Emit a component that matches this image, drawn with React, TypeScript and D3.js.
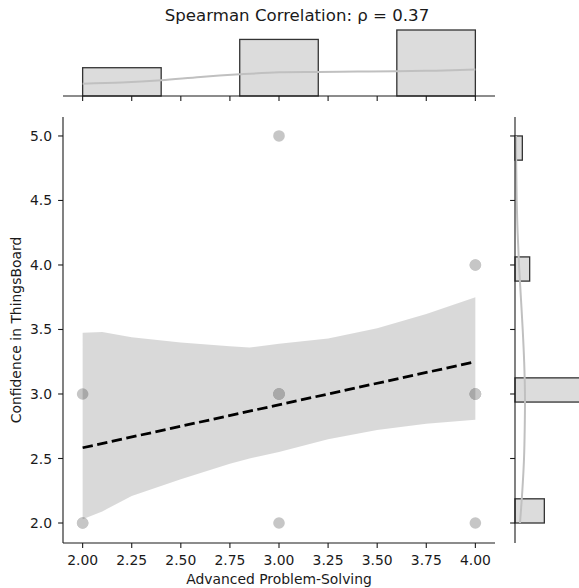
import React from "react";
import * as d3 from "d3";

// raw observations (16 respondents)
const xVals = [2, 2, 2, 3, 3, 3, 3, 3, 3, 4, 4, 4, 4, 4, 4, 4];
const yVals = [2, 2, 3, 5, 3, 3, 3, 3, 2, 4, 4, 3, 3, 3, 3, 2];

// bootstrap CI band
const bandX = [2, 2.1, 2.25, 2.5, 2.75, 2.85, 3.0, 3.25, 3.5, 3.75, 4.0];
const bandUpper = [3.475, 3.48, 3.44, 3.4, 3.37, 3.36, 3.39, 3.43, 3.51, 3.62, 3.75];
const bandLower = [2.03, 2.09, 2.21, 2.34, 2.46, 2.5, 2.55, 2.65, 2.72, 2.77, 2.8];

// marginal kde curves (in count units)
const kdeTopX = [2, 2.2, 2.4, 2.6, 2.8, 3.0, 3.2, 3.4, 3.6, 3.8, 4.0];
const kdeTopY = [1.31, 1.42, 1.66, 2.02, 2.3, 2.51, 2.55, 2.59, 2.62, 2.69, 2.8];
const kdeRightY = [2, 2.25, 2.5, 2.75, 3, 3.25, 3.5, 3.75, 4, 4.25, 4.5, 4.75, 5];
const kdeRightX = [0.68, 1.0, 1.23, 1.33, 1.36, 1.25, 1.05, 0.8, 0.55, 0.36, 0.23, 0.17, 0.14];

const xTicks = [2, 2.25, 2.5, 2.75, 3, 3.25, 3.5, 3.75, 4];
const yTicks = [2, 2.5, 3, 3.5, 4, 4.5, 5];

const title = "Spearman Correlation: \u03c1 = 0.37";
const xLabel = "Advanced Problem-Solving";
const yLabel = "Confidence in ThingsBoard";

const W = 579;
const H = 588;
const font = "DejaVu Sans, sans-serif";
const ink = "#1a1a1a";

export default function App() {
  const left = 63, right = 495, top = 117, bottom = 543;
  const x = d3.scaleLinear().domain([1.9, 4.1]).range([left, right]);
  const y = d3.scaleLinear().domain([1.845, 5.147]).range([bottom, top]);

  // top marginal
  const topBase = 96;
  const topBins = d3.bin().domain([2, 4]).thresholds([2.4, 2.8, 3.2, 3.6])(xVals);
  const topMax = d3.max(topBins, b => b.length) as number;
  const cTop = d3.scaleLinear().domain([0, topMax * 1.05]).range([topBase, topBase - 69.3]);

  // right marginal
  const rightBase = 515;
  const yThr = d3.range(1, 16).map(k => 2 + k * 0.1875);
  const rightBins = d3.bin().domain([2, 5]).thresholds(yThr)(yVals);
  const rightMax = d3.max(rightBins, b => b.length) as number;
  const cRight = d3.scaleLinear().domain([0, rightMax * 1.05]).range([rightBase, rightBase + 69.3]);

  // least squares fit
  const mx = d3.mean(xVals) as number;
  const my = d3.mean(yVals) as number;
  const sxy = d3.sum(xVals.map((v, i) => (v - mx) * (yVals[i] - my)));
  const sxx = d3.sum(xVals.map(v => (v - mx) ** 2));
  const slope = sxy / sxx;
  const fit = (v: number) => my + slope * (v - mx);

  const band = d3.area<number>()
    .x((d, i) => x(bandX[i]))
    .y0((d, i) => y(bandLower[i]))
    .y1(d => y(d))
    .curve(d3.curveLinear)(bandUpper) as string;

  const topKde = d3.line<number>()
    .x((d, i) => x(kdeTopX[i]))
    .y(d => cTop(d))
    .curve(d3.curveCatmullRom)(kdeTopY) as string;

  const rightKde = d3.line<number>()
    .x(d => cRight(d))
    .y((d, i) => y(kdeRightY[i]))
    .curve(d3.curveCatmullRom)(kdeRightX) as string;

  return (
    <svg width={W} height={H} style={{ position: "absolute", left: 0, top: 0 }} fontFamily={font}>
      <rect width={W} height={H} fill="#fff" />

      {/* scatter (drawn under the band like regplot) */}
      {xVals.map((v, i) => (
        <circle key={i} cx={x(v)} cy={y(yVals[i])} r={5.8} fill="#c6c6c6" />
      ))}
      <path d={band} fill="#000" fillOpacity={0.15} />
      <line x1={x(2)} y1={y(fit(2))} x2={x(4)} y2={y(fit(4))}
        stroke="#000" strokeWidth={2.8} strokeDasharray="10.4,4.5" />

      {/* main axes */}
      <line x1={left} y1={top} x2={left} y2={bottom} stroke={ink} strokeWidth={1.1} />
      <line x1={left} y1={bottom} x2={right} y2={bottom} stroke={ink} strokeWidth={1.1} />
      {xTicks.map(t => (
        <g key={t}>
          <line x1={x(t)} x2={x(t)} y1={bottom} y2={bottom + 4.9} stroke={ink} strokeWidth={1.1} />
          <text x={x(t)} y={565} fontSize={13.9} textAnchor="middle" fill={ink}>{t.toFixed(2)}</text>
        </g>
      ))}
      {yTicks.map(t => (
        <g key={t}>
          <line x1={left - 4.9} x2={left} y1={y(t)} y2={y(t)} stroke={ink} strokeWidth={1.1} />
          <text x={52} y={y(t)} dy="0.36em" fontSize={13.9} textAnchor="end" fill={ink}>{t.toFixed(1)}</text>
        </g>
      ))}
      <text x={(left + right) / 2} y={584} fontSize={13.9} textAnchor="middle" fill={ink}>{xLabel}</text>
      <text transform={`translate(21,${(top + bottom) / 2}) rotate(-90)`} fontSize={13.9} textAnchor="middle" fill={ink}>{yLabel}</text>

      {/* top marginal */}
      {topBins.filter(b => b.length > 0).map((b, i) => (
        <rect key={i} x={x(b.x0 as number)} width={x(b.x1 as number) - x(b.x0 as number)}
          y={cTop(b.length)} height={topBase - cTop(b.length)}
          fill="#dcdcdc" stroke="#333" strokeWidth={1.3} />
      ))}
      <path d={topKde} fill="none" stroke="#c0c0c0" strokeWidth={2} />
      <line x1={left} x2={right} y1={topBase} y2={topBase} stroke={ink} strokeWidth={1.1} />
      {xTicks.map(t => (
        <line key={t} x1={x(t)} x2={x(t)} y1={topBase} y2={topBase + 4.9} stroke={ink} strokeWidth={1.1} />
      ))}
      <text x={297} y={21} fontSize={16.6} textAnchor="middle" fill={ink}>{title}</text>

      {/* right marginal */}
      {rightBins.filter(b => b.length > 0).map((b, i) => (
        <rect key={i} x={rightBase} width={cRight(b.length) - rightBase}
          y={y(b.x1 as number)} height={y(b.x0 as number) - y(b.x1 as number)}
          fill="#dcdcdc" stroke="#333" strokeWidth={1.3} />
      ))}
      <path d={rightKde} fill="none" stroke="#c0c0c0" strokeWidth={2} />
      <line x1={rightBase} x2={rightBase} y1={top} y2={bottom} stroke={ink} strokeWidth={1.1} />
      {yTicks.map(t => (
        <line key={t} x1={rightBase - 4.9} x2={rightBase} y1={y(t)} y2={y(t)} stroke={ink} strokeWidth={1.1} />
      ))}
    </svg>
  );
}
